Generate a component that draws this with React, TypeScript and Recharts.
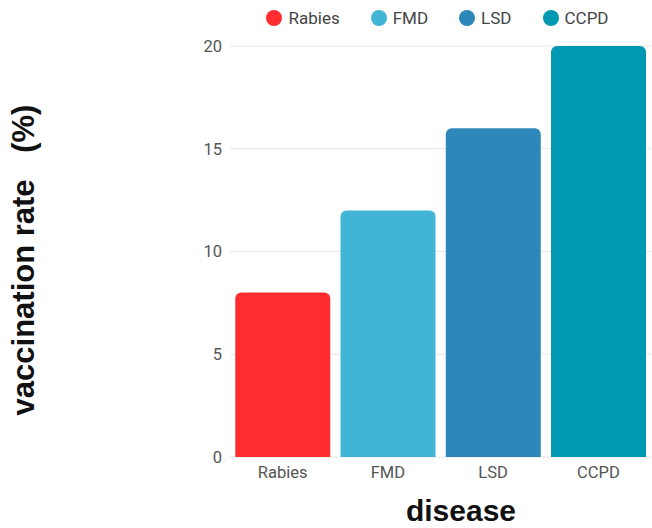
import React from "react";
import { BarChart, Bar, XAxis, YAxis, CartesianGrid, Legend, Cell } from "recharts";

// Vaccination rate by disease
const diseases = ["Rabies", "FMD", "LSD", "CCPD"];
const rates = [8, 12, 16, 20];
const colors = ["#FF2D2F", "#42B5D5", "#2D88B9", "#0098B2"];
const yTicks = [0, 5, 10, 15, 20];

const data = diseases.map((name, i) => ({ name, rate: rates[i] }));

const tickStyle = { fill: "#555", fontSize: 16.5, fontFamily: "Roboto, sans-serif" };

const LegendContent = () => (
  <div
    style={{
      display: "flex",
      justifyContent: "center",
      alignItems: "center",
      height: 26,
      gap: 31,
      fontFamily: "Roboto, sans-serif",
      fontSize: 17,
      color: "#444",
      paddingRight: 6,
    }}
  >
    {diseases.map((d, i) => (
      <div key={d} style={{ display: "flex", alignItems: "center", gap: 6 }}>
        <span
          style={{
            width: 16,
            height: 16,
            borderRadius: "50%",
            background: colors[i],
            display: "inline-block",
          }}
        />
        <span>{d}</span>
      </div>
    ))}
  </div>
);

const YTitle = () => (
  <text
    transform="rotate(-90, 34, 260)"
    x={34}
    y={260}
    textAnchor="middle"
    fontFamily="'Liberation Sans', Arial, sans-serif"
    fontWeight="bold"
    fontSize={31}
    fill="#111"
  >
    vaccination rate <tspan dx={18}>(%)</tspan>
  </text>
);

const XTitle = () => (
  <text
    x={461}
    y={521}
    textAnchor="middle"
    fontFamily="'Liberation Sans', Arial, sans-serif"
    fontWeight="bold"
    fontSize={30}
    fill="#111"
  >
    disease
  </text>
);

export default function App() {
  return (
    <div style={{ position: "absolute", left: 0, top: 0, background: "#fff" }}>
      <BarChart
        width={652}
        height={528}
        data={data}
        margin={{ top: 20, right: 1, bottom: 0, left: 0 }}
        barCategoryGap="5%"
      >
        <CartesianGrid horizontal vertical={false} stroke="#e6e6e6" />
        <Legend
          verticalAlign="top"
          content={<LegendContent />}
          wrapperStyle={{ top: 5, left: 230, width: 421 }}
        />
        <XAxis
          dataKey="name"
          axisLine={false}
          tickLine={false}
          tick={tickStyle}
          tickMargin={3}
          height={71}
          label={<XTitle />}
        />
        <YAxis
          width={230}
          domain={[0, 20]}
          ticks={yTicks}
          axisLine={false}
          tickLine={false}
          tick={tickStyle}
          label={<YTitle />}
        />
        <Bar dataKey="rate" radius={[6, 6, 0, 0]} isAnimationActive={false}>
          {data.map((d, i) => (
            <Cell key={d.name} fill={colors[i]} />
          ))}
        </Bar>
      </BarChart>
    </div>
  );
}
